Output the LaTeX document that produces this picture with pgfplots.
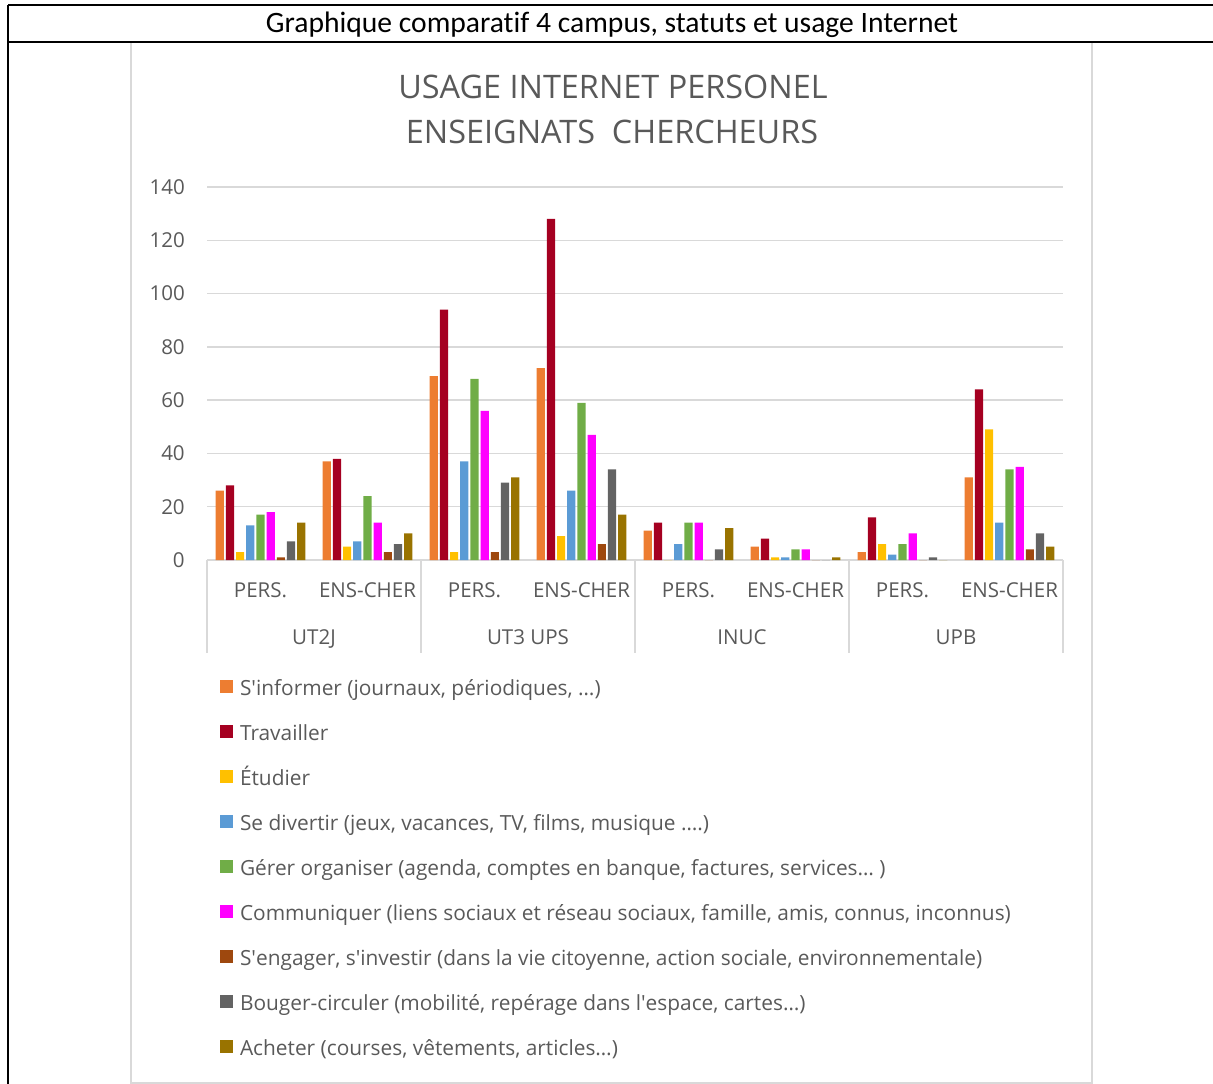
\documentclass[border=0pt]{standalone}
\usepackage{pgfplots}
\pgfplotsset{compat=1.18}
\usepackage{pgfplotstable}
\usepackage{fontspec}
\setmainfont{Open Sans}
\newfontfamily\hdrfont[Ligatures=NoCommon]{Carlito}
\definecolor{txt}{HTML}{595959}
\definecolor{grd}{HTML}{D9D9D9}
\definecolor{c1}{HTML}{ED7D31}
\definecolor{c2}{HTML}{A50021}
\definecolor{c3}{HTML}{FFC000}
\definecolor{c4}{HTML}{5B9BD5}
\definecolor{c5}{HTML}{70AD47}
\definecolor{c6}{HTML}{FF00FF}
\definecolor{c7}{HTML}{9E480E}
\definecolor{c8}{HTML}{636363}
\definecolor{c9}{HTML}{997300}
\newcommand{\q}{\textquotesingle}
\pgfplotstableread{
x a b c d e f g h i
0 26 28 3 13 17 18 1 7 14
1 37 38 5 7 24 14 3 6 10
2 69 94 3 37 68 56 3 29 31
3 72 128 9 26 59 47 6 34 17
4 11 14 0 6 14 14 0 4 12
5 5 8 1 1 4 4 0 0 1
6 3 16 6 2 6 10 0 1 0
7 31 64 49 14 34 35 4 10 5
}\data
\begin{document}
\begin{tikzpicture}
\useasboundingbox (0,0) rectangle (909.75pt,-813pt);
\begin{scope}[x=0.75pt,y=-0.75pt]
\draw[grd, line width=1.1pt] (131,42) -- (131,1083) -- (1092,1083) -- (1092,42);
\draw[line width=1.3pt] (8,5) -- (1213,5);
\draw[line width=1.3pt] (8,42) -- (1213,42);
\draw[line width=1.3pt] (8,5) -- (8,1084);
\node[font=\hdrfont\fontsize{22.2pt}{26pt}\selectfont] at (612,25) {Graphique comparatif 4 campus, statuts et usage Internet};
\node[txt, font=\fontsize{24.3pt}{29pt}\selectfont] at (613,87) {USAGE INTERNET PERSONEL};
\node[txt, font=\fontsize{24.3pt}{29pt}\selectfont] at (612,132) {ENSEIGNATS\ \ CHERCHEURS};
\end{scope}
\begin{axis}[
  at={(155.25pt,-420pt)}, anchor=south west,
  scale only axis, width=642pt, height=279.75pt,
  xmin=-0.5, xmax=7.5, ymin=0, ymax=140,
  ytick={0,20,...,140}, xtick={0,...,7},
  xticklabels={PERS.,ENS-CHER,PERS.,ENS-CHER,PERS.,ENS-CHER,PERS.,ENS-CHER},
  major tick length=0pt,
  axis line style={draw=none},
  ymajorgrids, grid style={grd, line width=1pt},
  tick label style={txt, font=\fontsize{15.4pt}{18pt}\selectfont},
  /pgf/number format/assume math mode=true,
  yticklabel style={anchor=east, inner sep=0pt, xshift=-16.5pt},
  xticklabel style={anchor=base, inner sep=0pt, yshift=-28.3pt},
  ybar, bar width=0.0767,
  clip=false,
  legend cell align=left,
  legend style={at={(axis description cs:0.0152,-0.2842)}, anchor=north west,
    draw=none, fill=none, inner sep=0pt, outer sep=0pt, row sep=0pt,
    font=\fontsize{15.65pt}{18pt}\selectfont, text=txt,
    nodes={inner sep=0pt, text height=22pt, text depth=11.75pt},
    /tikz/every odd column/.style={column sep=5.25pt}},
  legend image code/.code={\fill[#1] (0pt,-3.2pt) rectangle (9.75pt,6.55pt);},
]
\addplot[fill=c1, draw=none, bar shift=-0.3808] table[x=x,y=a]{\data};
\addlegendentry{S\q informer (journaux, périodiques, …)}
\addplot[fill=c2, draw=none, bar shift=-0.2856] table[x=x,y=b]{\data};
\addlegendentry{Travailler}
\addplot[fill=c3, draw=none, bar shift=-0.1904] table[x=x,y=c]{\data};
\addlegendentry{Étudier}
\addplot[fill=c4, draw=none, bar shift=-0.0952] table[x=x,y=d]{\data};
\addlegendentry{Se divertir (jeux, vacances, TV, films, musique ….)}
\addplot[fill=c5, draw=none, bar shift=0] table[x=x,y=e]{\data};
\addlegendentry{Gérer organiser (agenda, comptes en banque, factures, services\ldots\ )}
\addplot[fill=c6, draw=none, bar shift=0.0952] table[x=x,y=f]{\data};
\addlegendentry{Communiquer (liens sociaux et réseau sociaux, famille, amis, connus, inconnus)}
\addplot[fill=c7, draw=none, bar shift=0.1904] table[x=x,y=g]{\data};
\addlegendentry{S\q engager, s\q investir (dans la vie citoyenne, action sociale, environnementale)}
\addplot[fill=c8, draw=none, bar shift=0.2856] table[x=x,y=h]{\data};
\addlegendentry{Bouger-circuler (mobilité, repérage dans l\q espace, cartes\ldots)}
\addplot[fill=c9, draw=none, bar shift=0.3808] table[x=x,y=i]{\data};
\addlegendentry{Acheter (courses, vêtements, articles\ldots)}
\draw[grd, line width=1pt] (axis cs:-0.5,0) -- ([yshift=-69.75pt]axis cs:-0.5,0);
\draw[grd, line width=1pt] (axis cs:1.5,0) -- ([yshift=-69.75pt]axis cs:1.5,0);
\draw[grd, line width=1pt] (axis cs:3.5,0) -- ([yshift=-69.75pt]axis cs:3.5,0);
\draw[grd, line width=1pt] (axis cs:5.5,0) -- ([yshift=-69.75pt]axis cs:5.5,0);
\draw[grd, line width=1pt] (axis cs:7.5,0) -- ([yshift=-69.75pt]axis cs:7.5,0);
\node[txt, font=\fontsize{15.4pt}{18pt}\selectfont, anchor=base, inner sep=0pt, yshift=-63pt] at (axis cs:0.5,0) {UT2J};
\node[txt, font=\fontsize{15.4pt}{18pt}\selectfont, anchor=base, inner sep=0pt, yshift=-63pt] at (axis cs:2.5,0) {UT3 UPS};
\node[txt, font=\fontsize{15.4pt}{18pt}\selectfont, anchor=base, inner sep=0pt, yshift=-63pt] at (axis cs:4.5,0) {INUC};
\node[txt, font=\fontsize{15.4pt}{18pt}\selectfont, anchor=base, inner sep=0pt, yshift=-63pt] at (axis cs:6.5,0) {UPB};
\end{axis}
\end{tikzpicture}
\end{document}
